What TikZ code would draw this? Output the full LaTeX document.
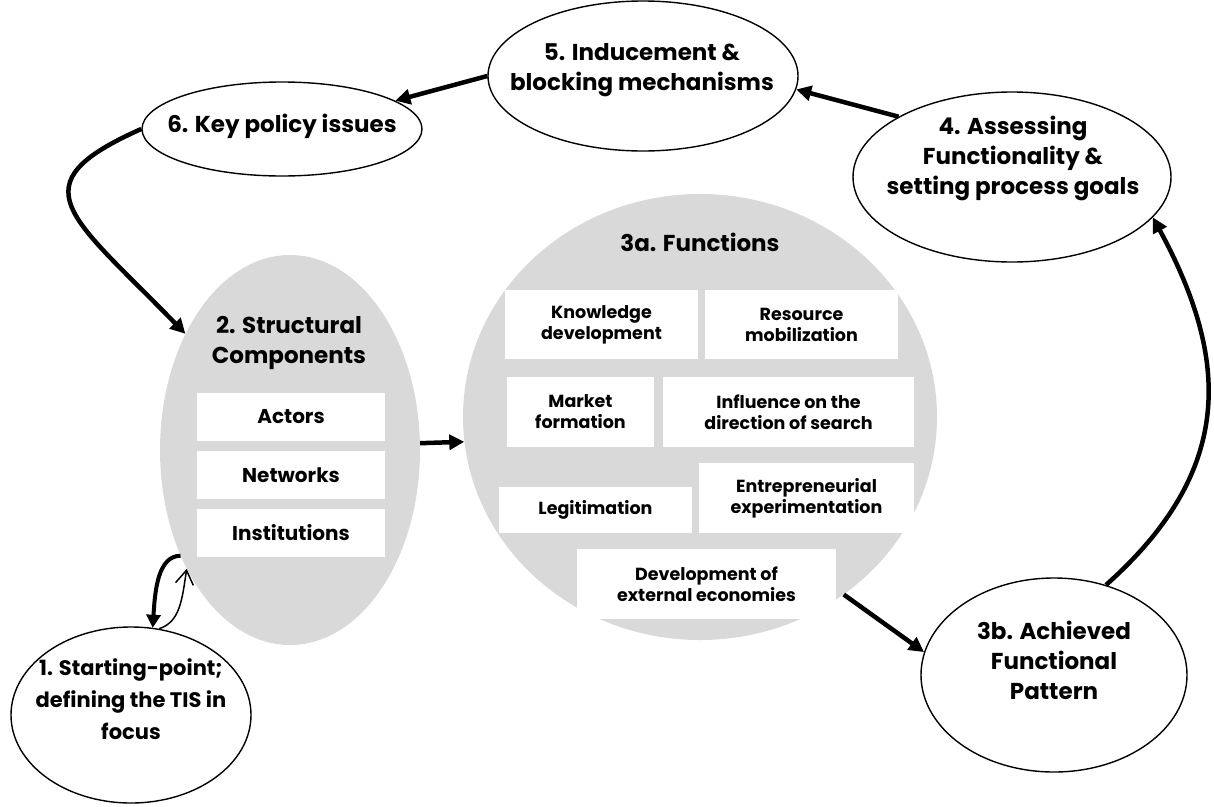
\documentclass[tikz,border=0pt]{standalone}
\usepackage{fontspec}
\setmainfont{Poppins}
\usetikzlibrary{shapes.geometric,arrows.meta}
\definecolor{greyfill}{RGB}{217,217,217}

\begin{document}
\begin{tikzpicture}[x=1pt,y=-1pt,
	stage/.style={draw,ellipse,line width=1.4pt,inner sep=0pt},
	area/.style={ellipse,fill=greyfill,inner sep=0pt},
	bigtext/.style={align=center,font=\fontsize{23}{30}\selectfont\bfseries},
	slot/.style={fill=white,inner sep=0pt,minimum width=188pt,minimum height=48pt,font=\fontsize{20}{24}\selectfont\bfseries},
	fbox/.style={fill=white,inner sep=0pt,align=center,font=\fontsize{17.5}{21}\selectfont\bfseries},
	flow/.style={line width=4.5pt,-{Triangle[length=15pt,width=15pt]}}]
	\useasboundingbox (0,0) rectangle (1214,806);
	\node[area,minimum width=260pt,minimum height=390pt] (e2) at (290,450) {};
	\node[area,minimum width=474pt,minimum height=446pt] (e3a) at (700,417) {};
	\node[stage,minimum width=310pt,minimum height=150pt] (e5) at (643,76) {};
	\node[stage,minimum width=280pt,minimum height=94pt] (e6) at (282,129) {};
	\node[stage,minimum width=318pt,minimum height=170pt] (e4) at (1012,177) {};
	\node[stage,minimum width=266pt,minimum height=194pt] (e3b) at (1054,675) {};
	\node[stage,minimum width=240pt,minimum height=176pt] (e1) at (131,715) {};
	\node[bigtext] (t5) at (642,70) {5. Inducement \&\\blocking mechanisms};
	\node[bigtext] (t6) at (282,126) {6. Key policy issues};
	\node[bigtext] (t4) at (1013,158) {4. Assessing\\Functionality \&\\setting process goals};
	\node[bigtext] (t3b) at (1054,660) {3b. Achieved\\Functional\\Pattern};
	\node[bigtext,font=\fontsize{21}{32}\selectfont\bfseries] (t1) at (131,699) {1. Starting-point;\\defining the TIS in\\focus};
	\node[bigtext] (t2) at (289,343) {2. Structural\\Components};
	\node[bigtext] (t3a) at (700,242) {3a. Functions};
	\node[slot] (actors) at (291,417) {Actors};
	\node[slot] (networks) at (291,475) {Networks};
	\node[slot] (institutions) at (291,533) {Institutions};
	\node[fbox,minimum width=193pt,minimum height=69pt] (knowledge) at (601.5,324.5) {Knowledge\\development};
	\node[fbox,minimum width=193pt,minimum height=69pt] (resource) at (801.5,324.5) {Resource\\mobilization};
	\node[fbox,minimum width=147pt,minimum height=70pt] (market) at (580.5,412) {Market\\formation};
	\node[fbox,minimum width=251pt,minimum height=70pt] (influence) at (788.5,412) {Influence on the\\direction of search};
	\node[fbox,minimum width=193pt,minimum height=46pt] (legitimation) at (595.5,510) {Legitimation};
	\node[fbox,minimum width=215pt,minimum height=70pt] (entrepreneur) at (806.5,498) {Entrepreneurial\\experimentation};
	\node[fbox,minimum width=259pt,minimum height=70pt] (external) at (706.5,584) {Development of\\external economies};
	\draw[flow] (e5.west) -- (e6.14);
	\draw[flow] (e4.152) -- (e5.355);
	\draw[flow] (e6.west) .. controls (15,185) and (70,215) .. (e2.132);
	\draw[flow] (e2.3) -- (e3a.186);
	\draw[flow] (e3a.-51) -- (e3b.170);
	\draw[flow] (e3b.60) .. controls (1235,470) and (1230,360) .. (e4.-16);
	\draw[line width=4pt,-{Triangle[length=13pt,width=14pt]}] (e2.224) .. controls (158,556) and (155,590) .. (e1.76);
	\draw[line width=1.5pt,-{Straight Barb[length=14pt,width=18pt]}] (e1.72) .. controls (180,622) and (182,600) .. (e2.229);
\end{tikzpicture}
\end{document}
